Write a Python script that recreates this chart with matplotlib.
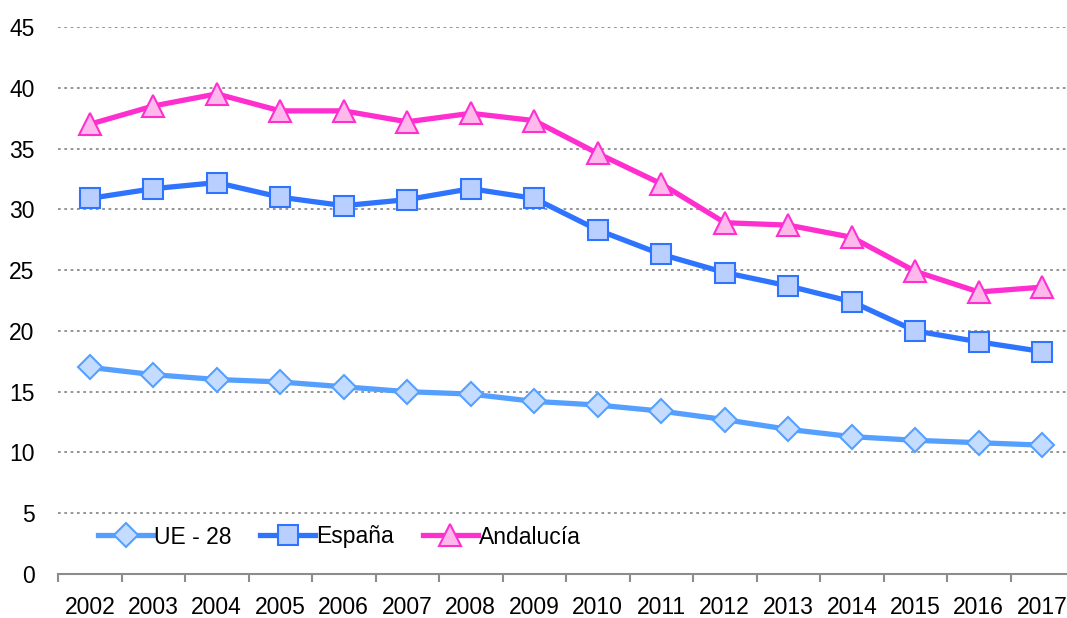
import matplotlib
matplotlib.use('Agg')
import matplotlib.pyplot as plt
import numpy as np

years = ['2002', '2003', '2004', '2005', '2006', '2007', '2008', '2009',
         '2010', '2011', '2012', '2013', '2014', '2015', '2016', '2017']
ue28 = [17.0, 16.4, 16.0, 15.8, 15.4, 15.0, 14.8, 14.2,
        13.9, 13.4, 12.7, 11.9, 11.3, 11.0, 10.8, 10.6]
espana = [30.9, 31.7, 32.2, 31.0, 30.3, 30.8, 31.7, 30.9,
          28.3, 26.3, 24.8, 23.7, 22.4, 20.0, 19.1, 18.3]
andalucia = [37.0, 38.5, 39.5, 38.1, 38.1, 37.2, 37.9, 37.3,
             34.6, 32.1, 28.9, 28.7, 27.7, 24.9, 23.2, 23.6]
yticks = [0, 5, 10, 15, 20, 25, 30, 35, 40, 45]

plt.rcParams['font.family'] = ['Liberation Sans', 'DejaVu Sans']

fig = plt.figure(figsize=(10.67, 6.18), dpi=100)
ax = fig.add_axes([58/1067, 44/618, 1016/1067, 547/618])

x = np.arange(len(years))
ax.plot(x, ue28, color='#55A0FF', lw=3.8, marker='D', ms=12,
        mfc='#C4DCFF', mec='#55A0FF', mew=1.5, label='UE - 28', zorder=3)
ax.plot(x, espana, color='#2F74FF', lw=3.8, marker='s', ms=15,
        mfc='#B9CFFF', mec='#2F74FF', mew=1.5, label='España', zorder=4)
ax.plot(x, andalucia, color='#FF2FCF', lw=3.8, marker='^', ms=16,
        mfc='#FFB8EC', mec='#FF2FCF', mew=1.5, label='Andalucía', zorder=5)

ax.set_xlim(-0.5, len(years) - 0.5)
ax.set_ylim(0, 45)
ax.set_yticks(yticks)
ax.set_xticks(x)
ax.set_xticklabels(years)
ax.set_xticks(np.arange(-0.5, len(years), 1), minor=True)
ax.tick_params(axis='x', which='major', length=0, pad=16, labelsize=16.5)
ax.tick_params(axis='x', which='minor', length=6, color='#8C8C8C', width=1.5)
ax.tick_params(axis='y', length=0, pad=17, labelsize=16.5)

ax.yaxis.grid(True, linestyle=(0, (1.5, 2)), color='#8C8C8C', lw=1.3)
ax.set_axisbelow(True)
for s in ['top', 'right', 'left']:
    ax.spines[s].set_visible(False)
ax.spines['bottom'].set_color('#8C8C8C')
ax.spines['bottom'].set_linewidth(1.5)

# leyenda dentro del gráfico, abajo a la izquierda
ax.legend(loc='center left', bbox_to_anchor=(98/1067, 1 - 537/618),
          bbox_transform=fig.transFigure, ncol=3, frameon=False,
          fontsize=16.5, handlelength=2.4, handletextpad=0.05, columnspacing=1.25,
          borderaxespad=0, borderpad=0)

fig.savefig('out.png', dpi=100)
